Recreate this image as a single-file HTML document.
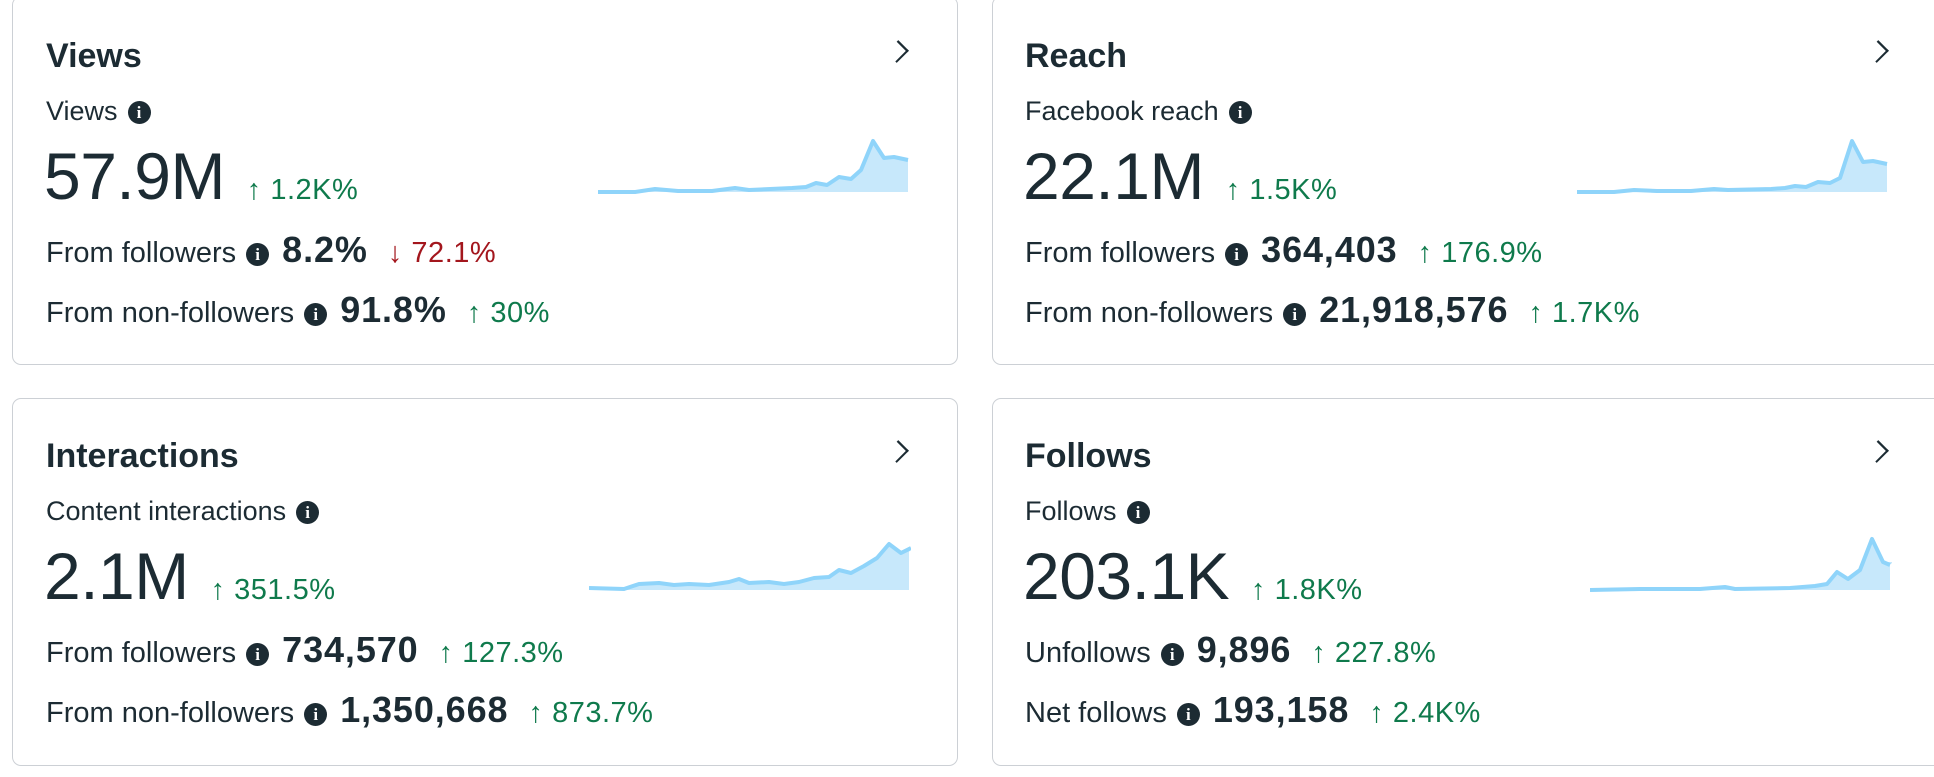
<!DOCTYPE html>
<html><head><meta charset="utf-8"><style>
body{margin:0;width:1934px;height:777px;background:#fff;position:relative;overflow:hidden;font-family:"Liberation Sans",sans-serif;color:#1c2b33}
.card{position:absolute;border:1.5px solid #ccd0d5;border-radius:9px;box-sizing:border-box;background:#fff}
.t{position:absolute;white-space:nowrap}
.title{font-weight:bold;font-size:34px}
.sub{font-size:27px}
.big{font-size:66px;letter-spacing:-0.5px}
.row{font-size:29px}
.v{font-weight:bold;font-size:36px;letter-spacing:0.9px}
.g{color:#0f7a4c;font-size:29px;letter-spacing:0.5px}
.r{color:#a3161d;font-size:29px;letter-spacing:0.5px}
.i{display:inline-block;width:23px;height:23px;border-radius:50%;background:#1c2b33;color:#fff;font-size:17px;font-weight:bold;text-align:center;line-height:23px;vertical-align:2px;font-family:"Liberation Serif",serif;margin:0 13px 0 10px}
.chev{position:absolute;width:13px;height:13px;border-right:2px solid #1c2b33;border-top:2px solid #1c2b33;transform:rotate(45deg) scale(1,1.15)}
svg{position:absolute}
</style></head><body>

<!-- Card 1 -->
<div class="card" style="left:12px;top:-4px;width:946px;height:369px"></div>
<div class="t title" style="left:46px;top:37px">Views</div>
<div class="chev" style="left:890px;top:44px"></div>
<div class="t sub" style="left:46px;top:96px">Views<span class="i">i</span></div>
<div class="t big" style="left:44px;top:138px">57.9M <span class="g" style="margin-left:4px">↑ 1.2K%</span></div>
<div class="t row" style="left:46px;top:229px">From followers<span class="i">i</span><span class="v">8.2%</span> <span class="r" style="margin-left:12px">↓ 72.1%</span></div>
<div class="t row" style="left:46px;top:289px">From non-followers<span class="i">i</span><span class="v">91.8%</span> <span class="g" style="margin-left:12px">↑ 30%</span></div>
<svg style="left:598px;top:138px" width="312" height="56" viewBox="0 -2 312 56"><polygon fill="#c7e8fb" points="0,52 37,52 57,49 80,51 114,51 137,48 151,50 194,48 208,47 218,43 229,45 241,37 253,39 263,30 275,1 286,18 296,17 310,20 310,52"/><polyline fill="none" stroke="#8fd4fa" stroke-width="4" stroke-linejoin="round" points="0,52 37,52 57,49 80,51 114,51 137,48 151,50 194,48 208,47 218,43 229,45 241,37 253,39 263,30 275,1 286,18 296,17 310,20"/></svg>

<!-- Card 2 -->
<div class="card" style="left:992px;top:-4px;width:960px;height:369px"></div>
<div class="t title" style="left:1025px;top:37px">Reach</div>
<div class="chev" style="left:1870px;top:44px"></div>
<div class="t sub" style="left:1025px;top:96px">Facebook reach<span class="i">i</span></div>
<div class="t big" style="left:1023px;top:138px">22.1M <span class="g" style="margin-left:4px">↑ 1.5K%</span></div>
<div class="t row" style="left:1025px;top:229px">From followers<span class="i">i</span><span class="v">364,403</span> <span class="g" style="margin-left:12px">↑ 176.9%</span></div>
<div class="t row" style="left:1025px;top:289px">From non-followers<span class="i">i</span><span class="v">21,918,576</span> <span class="g" style="margin-left:12px">↑ 1.7K%</span></div>
<svg style="left:1577px;top:138px" width="312" height="56" viewBox="0 -2 312 56"><polygon fill="#c7e8fb" points="0,52 37,52 57,50 80,51 114,51 137,49 151,50 194,49 208,48 218,46 229,47 241,42 253,43 263,38 275,1 286,22 296,21 310,24 310,52"/><polyline fill="none" stroke="#8fd4fa" stroke-width="4" stroke-linejoin="round" points="0,52 37,52 57,50 80,51 114,51 137,49 151,50 194,49 208,48 218,46 229,47 241,42 253,43 263,38 275,1 286,22 296,21 310,24"/></svg>

<!-- Card 3 -->
<div class="card" style="left:12px;top:398px;width:946px;height:368px"></div>
<div class="t title" style="left:46px;top:437px">Interactions</div>
<div class="chev" style="left:890px;top:444px"></div>
<div class="t sub" style="left:46px;top:496px">Content interactions<span class="i">i</span></div>
<div class="t big" style="left:44px;top:538px">2.1M <span class="g" style="margin-left:4px">↑ 351.5%</span></div>
<div class="t row" style="left:46px;top:629px">From followers<span class="i">i</span><span class="v">734,570</span> <span class="g" style="margin-left:12px">↑ 127.3%</span></div>
<div class="t row" style="left:46px;top:689px">From non-followers<span class="i">i</span><span class="v">1,350,668</span> <span class="g" style="margin-left:12px">↑ 873.7%</span></div>
<svg style="left:589px;top:536px" width="322" height="56" viewBox="0 -2 322 56"><polygon fill="#c7e8fb" points="0,50 35,51 50,46 70,45 85,47 100,46 120,47 140,44 150,41 160,45 180,44 195,46 210,44 225,40 240,39 250,32 262,35 275,28 288,20 300,6 312,15 322,10 320,14 320,52 0,52"/><polyline fill="none" stroke="#8fd4fa" stroke-width="4" stroke-linejoin="round" points="0,50 35,51 50,46 70,45 85,47 100,46 120,47 140,44 150,41 160,45 180,44 195,46 210,44 225,40 240,39 250,32 262,35 275,28 288,20 300,6 312,15 322,10"/></svg>

<!-- Card 4 -->
<div class="card" style="left:992px;top:398px;width:960px;height:368px"></div>
<div class="t title" style="left:1025px;top:437px">Follows</div>
<div class="chev" style="left:1870px;top:444px"></div>
<div class="t sub" style="left:1025px;top:496px">Follows<span class="i">i</span></div>
<div class="t big" style="left:1023px;top:538px">203.1K <span class="g" style="margin-left:4px">↑ 1.8K%</span></div>
<div class="t row" style="left:1025px;top:629px">Unfollows<span class="i">i</span><span class="v">9,896</span> <span class="g" style="margin-left:12px">↑ 227.8%</span></div>
<div class="t row" style="left:1025px;top:689px">Net follows<span class="i">i</span><span class="v">193,158</span> <span class="g" style="margin-left:12px">↑ 2.4K%</span></div>
<svg style="left:1590px;top:536px" width="302" height="56" viewBox="0 -2 302 56"><polygon fill="#c7e8fb" points="0,52 50,51 110,51 135,49 145,51 200,50 225,48 237,46 247,34 258,41 270,32 282,1 293,24 305,24 300,26 300,52"/><polyline fill="none" stroke="#8fd4fa" stroke-width="4" stroke-linejoin="round" points="0,52 50,51 110,51 135,49 145,51 200,50 225,48 237,46 247,34 258,41 270,32 282,1 293,24 300,27"/></svg>

</body></html>
